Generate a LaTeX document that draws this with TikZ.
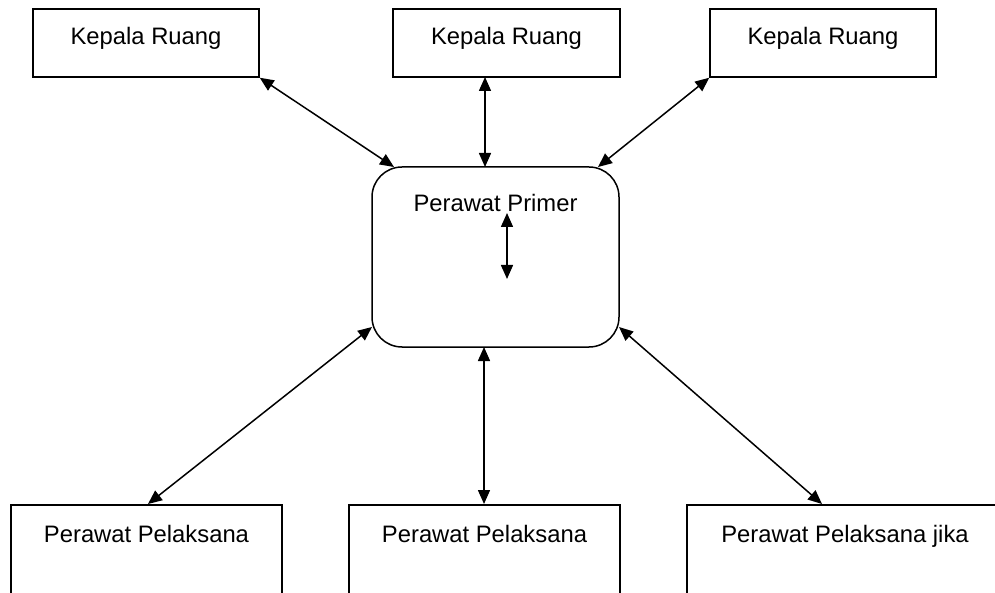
\documentclass[tikz,border=0pt]{standalone}
\usepackage{fontspec}
\setmainfont{Liberation Sans}
\usetikzlibrary{arrows.meta}
\tikzset{
  box/.style={draw=black, line width=1.5pt, fill=white, inner sep=0pt},
  rbox/.style={box, rounded corners=30pt},
  lbl/.style={anchor=base, inner sep=0pt, font=\fontsize{23.8}{28}\selectfont},
  link/.style={line width=1.5pt, {Triangle[length=14pt,width=12pt]}-{Triangle[length=14pt,width=12pt]}},
}
\begin{document}
\begin{tikzpicture}[x=1pt,y=-1pt]
\clip (0,0) rectangle (995,593);
\fill[white] (0,0) rectangle (995,593);
% top boxes
\node[box, minimum width=226pt, minimum height=68pt] (k1) at (146,43) {};
\node[box, minimum width=227pt, minimum height=68pt] (k2) at (506.5,43) {};
\node[box, minimum width=226pt, minimum height=68pt] (k3) at (823,43) {};
\node[lbl] (t1) at (146,45) {Kepala Ruang};
\node[lbl] (t2) at (506.5,45) {Kepala Ruang};
\node[lbl] (t3) at (823,45) {Kepala Ruang};
% center
\node[rbox, minimum width=247pt, minimum height=180pt] (pp) at (495.5,257) {};
\node[lbl] (tp) at (495.5,212) {Perawat Primer};
% bottom boxes
\node[box, minimum width=271pt, minimum height=130pt, anchor=north] (b1) at (146.5,504) {};
\node[box, minimum width=271pt, minimum height=130pt, anchor=north] (b2) at (484.5,504) {};
\node[box, minimum width=316pt, minimum height=130pt, anchor=north] (b3) at (845,504) {};
\node[lbl] (tb1) at (146.5,542) {Perawat Pelaksana};
\node[lbl] (tb2) at (484.5,542) {Perawat Pelaksana};
\node[lbl] (tb3) at (845,542) {Perawat Pelaksana jika};
% connector end points
\coordinate (c1) at (394,167);
\coordinate (c2) at (485,167);
\coordinate (c3) at (598,167);
\coordinate (k2s) at (485,77);
\coordinate (i1) at (507,213);
\coordinate (i2) at (507,279);
\coordinate (d1) at (372,327);
\coordinate (d2) at (484,347);
\coordinate (d3) at (619,327);
\coordinate (e1) at (148,504);
\coordinate (e2) at (484,504);
\coordinate (e3) at (822,504);
% connectors
\draw[link] (k1.south east) -- (c1);
\draw[link] (k2s) -- (c2);
\draw[link] (k3.south west) -- (c3);
\draw[link] (i1) -- (i2);
\draw[link] (d1) -- (e1);
\draw[link] (d2) -- (e2);
\draw[link] (d3) -- (e3);
\end{tikzpicture}
\end{document}
